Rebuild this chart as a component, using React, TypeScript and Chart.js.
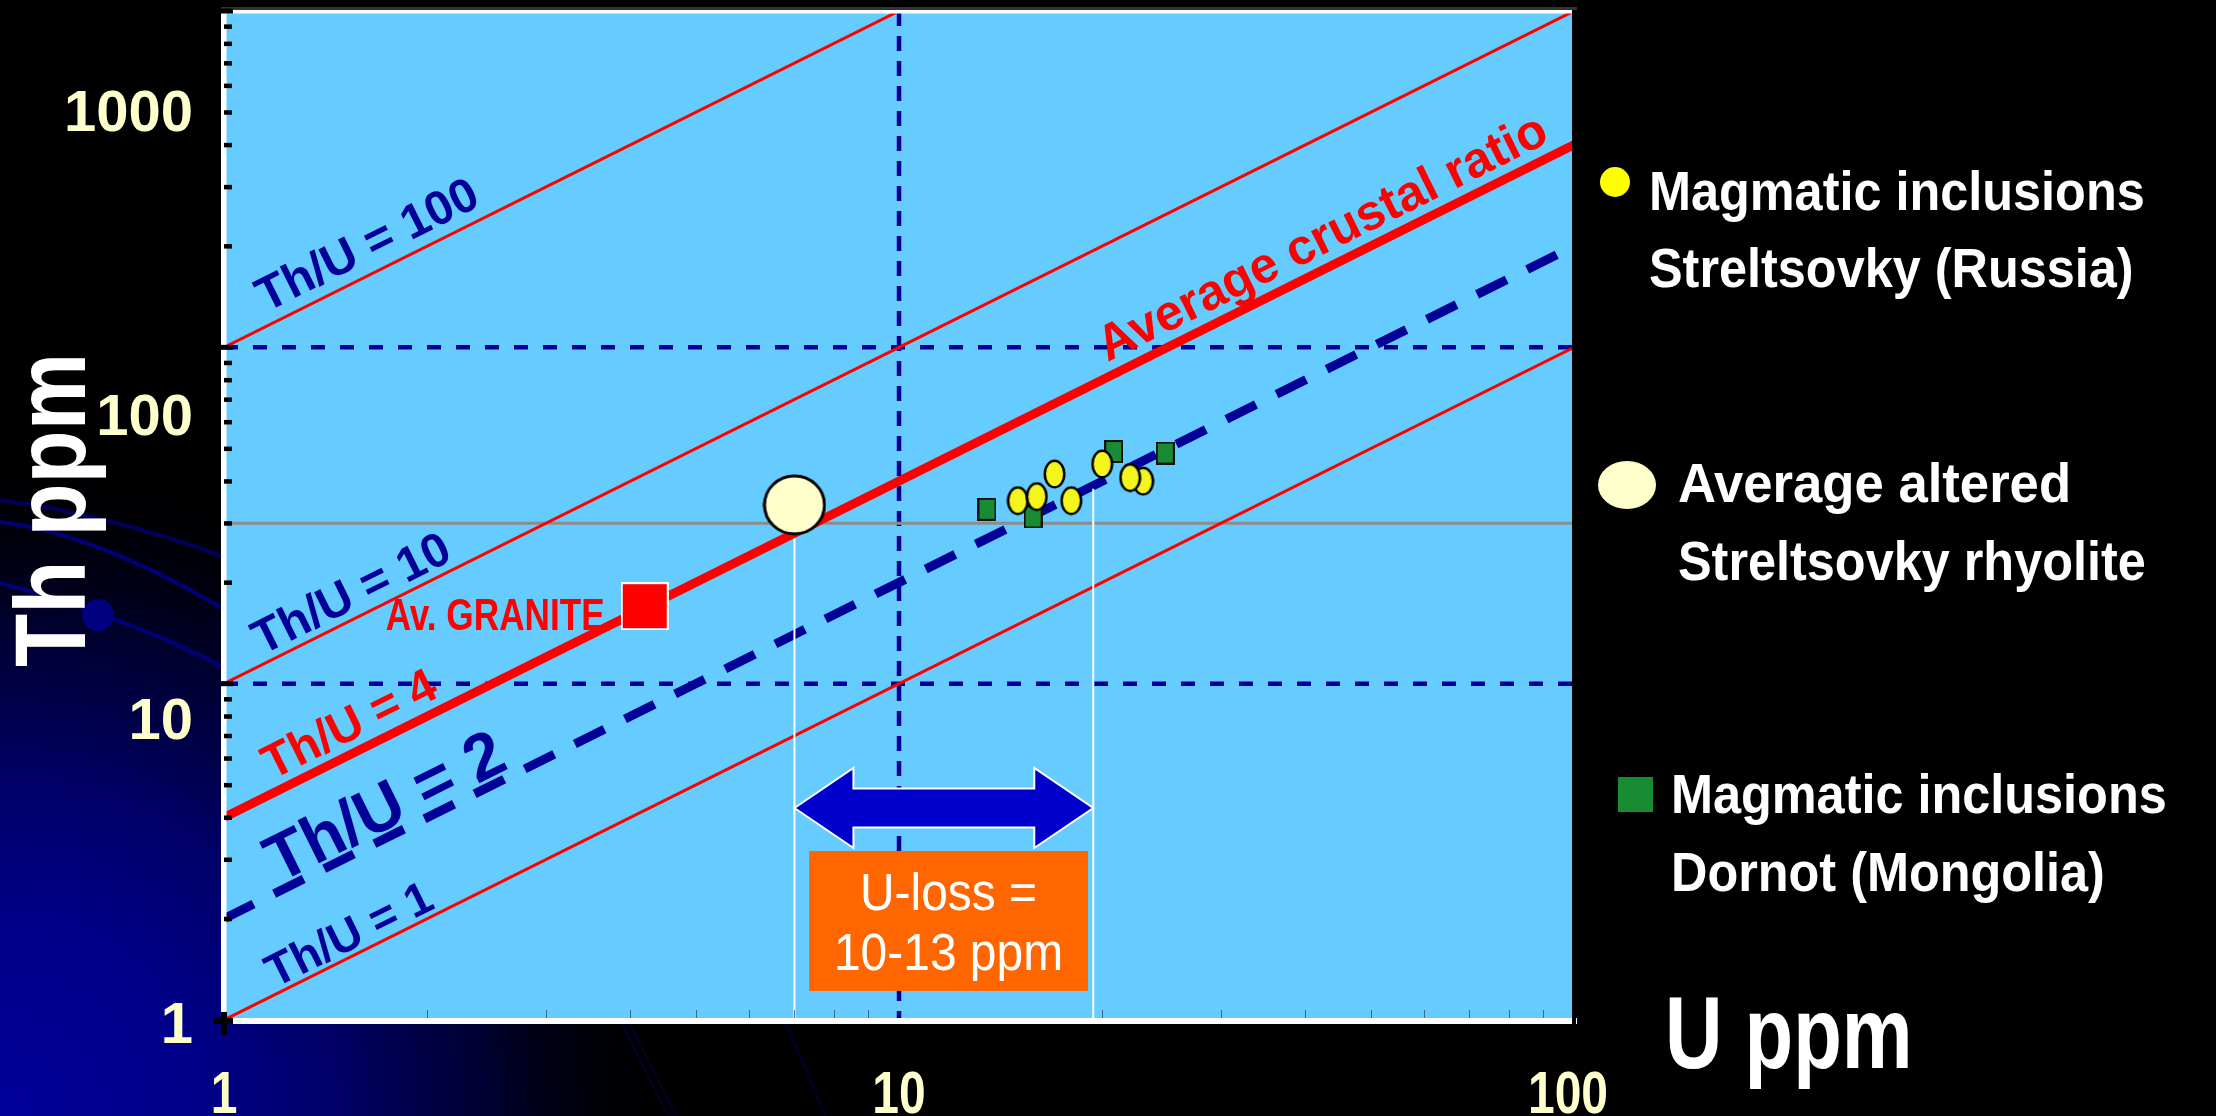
import React, { useEffect, useRef } from 'react';
import { Chart, registerables } from 'chart.js';

Chart.register(...registerables);

const FONT = '"Liberation Sans", Arial, Helvetica, sans-serif';
const NAVY = '#000099';
const RED = '#FF0000';
const LABEL_COLOR = '#FFFFCC';

// Axis ranges and tick values
const uRange = [1, 100];
const thRange = [1, 1000];
const thLabelRange = [1, 2084];
const uTickLabels = [1, 10, 100];
const thTickLabels = [1, 10, 100, 1000];
const uGrid = [10];
const thGrid = [10, 100];
const uMinorTicks = [2, 3, 4, 5, 6, 7, 8, 9, 20, 30, 40, 50, 60, 70, 80, 90];
const thMinorTicks = [2, 3, 4, 5, 6, 7, 8, 9, 20, 30, 40, 50, 60, 70, 80, 90, 200, 300, 400, 500, 600, 700, 800, 900];
const thMajorTicks = [10, 100, 1000];

// Th/U reference ratios
const thinRatios = [100, 10, 1];
const crustalRatio = 4;
const lowRatio = 2;

// Samples (U ppm, Th ppm)
const streltsovkyU = [15, 16, 17, 18, 20, 23, 22];
const streltsovkyTh = [35, 36, 42, 35, 45, 40, 41];
const dornotU = [13.5, 15.8, 20.8, 24.8];
const dornotTh = [33, 31.3, 49, 48.5];
const rhyoliteU = [7];
const rhyoliteTh = [34];
const graniteU = [4.2];
const graniteTh = [17];

// U-loss construction
const rhyoliteThLevel = 30;
const uLossU = [7, 19.4];
const uLossTopTh = [27, 38];
const uLossArrowTh = 4.27;
const uLossBoxU = [7.36, 19.05];
const uLossBoxTh = [1.22, 3.18];

type Pt = { x: number; y: number };
const pts = (xs: number[], ys: number[]): Pt[] => xs.map((x, i) => ({ x, y: ys[i] }));
const ratioLine = (r: number): Pt[] => [
  { x: uRange[0], y: r * uRange[0] },
  { x: uRange[1], y: r * uRange[1] },
];

// Rotated labels along the ratio lines (anchor = baseline start, in data units)
const ratioLabels = [
  { text: 'Th/U = 100', u: 1.154, th: 127, size: 48, color: NAVY },
  { text: 'Th/U = 10', u: 1.138, th: 12.15, size: 48, color: NAVY },
  { text: 'Th/U = 4', u: 1.178, th: 5.17, size: 48, color: RED },
  { text: 'Th/U = 2', u: 1.205, th: 2.55, size: 66, color: NAVY },
  { text: 'Th/U = 1', u: 1.19, th: 1.245, size: 46, color: NAVY },
  { text: 'Average crustal ratio', u: 20.37, th: 90.4, size: 50, color: RED },
];

function drawText(
  ctx: CanvasRenderingContext2D,
  text: string,
  x: number,
  y: number,
  o: { size: number; color: string; weight?: string; align?: CanvasTextAlign; angle?: number; sx?: number }
) {
  ctx.save();
  ctx.translate(x, y);
  if (o.angle) ctx.rotate(o.angle);
  ctx.scale(o.sx ?? 1, 1);
  ctx.font = `${o.weight ?? 'bold'} ${o.size}px ${FONT}`;
  ctx.fillStyle = o.color;
  ctx.textAlign = o.align ?? 'left';
  ctx.textBaseline = 'alphabetic';
  ctx.fillText(text, 0, 0);
  ctx.restore();
}

function ellipseMarker(w: number, h: number, fill: string, stroke: string, lw: number) {
  const c = document.createElement('canvas');
  c.width = w;
  c.height = h;
  const g = c.getContext('2d')!;
  g.beginPath();
  g.ellipse(w / 2, h / 2, w / 2 - lw / 2 - 0.5, h / 2 - lw / 2 - 0.5, 0, 0, Math.PI * 2);
  g.fillStyle = fill;
  g.fill();
  if (lw > 0) {
    g.lineWidth = lw;
    g.strokeStyle = stroke;
    g.stroke();
  }
  return c;
}

function rectMarker(w: number, h: number, fill: string, stroke: string, lw: number) {
  const c = document.createElement('canvas');
  c.width = w;
  c.height = h;
  const g = c.getContext('2d')!;
  g.fillStyle = fill;
  g.fillRect(0, 0, w, h);
  if (lw > 0) {
    g.lineWidth = lw;
    g.strokeStyle = stroke;
    g.strokeRect(lw / 2, lw / 2, w - lw, h - lw);
  }
  return c;
}

const backdropPlugin = {
  id: 'backdrop',
  beforeDraw(chart: any) {
    const { ctx, width, height, chartArea: a } = chart;
    ctx.save();
    ctx.fillStyle = '#000';
    ctx.fillRect(0, 0, width, height);
    const g = ctx.createRadialGradient(0, height, 0, 0, height, 680);
    g.addColorStop(0, '#00009C');
    g.addColorStop(0.3, '#000088');
    g.addColorStop(0.5, '#000066');
    g.addColorStop(0.72, '#000030');
    g.addColorStop(1, 'rgba(0,0,0,0)');
    ctx.fillStyle = g;
    ctx.fillRect(0, 0, width, height);

    // decorative swooshes on the left
    ctx.lineCap = 'round';
    ctx.strokeStyle = '#00005A';
    ctx.lineWidth = 4;
    ctx.beginPath();
    ctx.moveTo(0, 500);
    ctx.quadraticCurveTo(110, 515, a.left - 2, 556);
    ctx.stroke();
    ctx.strokeStyle = '#000078';
    ctx.beginPath();
    ctx.moveTo(0, 522);
    ctx.bezierCurveTo(70, 530, 150, 566, a.left - 2, 608);
    ctx.stroke();
    ctx.beginPath();
    ctx.moveTo(0, 583);
    ctx.quadraticCurveTo(130, 618, a.left - 2, 667);
    ctx.stroke();
    ctx.fillStyle = '#000080';
    ctx.beginPath();
    ctx.arc(98, 615, 16, 0, Math.PI * 2);
    ctx.fill();
    ctx.strokeStyle = 'rgba(0,0,80,0.6)';
    ctx.lineWidth = 2;
    ctx.beginPath();
    ctx.moveTo(622, a.bottom + 4);
    ctx.lineTo(668, height);
    ctx.moveTo(630, a.bottom + 4);
    ctx.lineTo(676, height);
    ctx.moveTo(786, a.bottom + 4);
    ctx.lineTo(826, height);
    ctx.stroke();

    ctx.fillStyle = '#66CCFF';
    ctx.fillRect(a.left, a.top, a.right - a.left, a.bottom - a.top);
    ctx.restore();
  },
  beforeDatasetsDraw(chart: any) {
    const { ctx, chartArea: a, scales } = chart;
    const xs = scales.x;
    const ys = scales.y;
    ctx.save();
    ctx.strokeStyle = NAVY;
    ctx.lineWidth = 4.5;
    ctx.setLineDash([14, 15]);
    for (const th of thGrid) {
      const py = ys.getPixelForValue(th);
      ctx.beginPath();
      ctx.moveTo(a.left, py);
      ctx.lineTo(a.right, py);
      ctx.stroke();
    }
    ctx.setLineDash([15, 10]);
    for (const u of uGrid) {
      const px = xs.getPixelForValue(u);
      ctx.beginPath();
      ctx.moveTo(px, a.top);
      ctx.lineTo(px, a.bottom);
      ctx.stroke();
    }
    ctx.restore();
  },
  afterDatasetsDraw(chart: any) {
    const { ctx, chartArea: a, scales } = chart;
    const xs = scales.x;
    const ys = scales.y;
    ctx.save();

    // U-loss arrow
    const xl = xs.getPixelForValue(uLossU[0]);
    const xr = xs.getPixelForValue(uLossU[1]);
    const ya = ys.getPixelForValue(uLossArrowTh);
    const head = 59;
    const hh = 40;
    const sh = 19.5;
    ctx.beginPath();
    ctx.moveTo(xl, ya);
    ctx.lineTo(xl + head, ya - hh);
    ctx.lineTo(xl + head, ya - sh);
    ctx.lineTo(xr - head, ya - sh);
    ctx.lineTo(xr - head, ya - hh);
    ctx.lineTo(xr, ya);
    ctx.lineTo(xr - head, ya + hh);
    ctx.lineTo(xr - head, ya + sh);
    ctx.lineTo(xl + head, ya + sh);
    ctx.lineTo(xl + head, ya + hh);
    ctx.closePath();
    ctx.fillStyle = '#0000CC';
    ctx.fill();
    ctx.strokeStyle = '#FFFFFF';
    ctx.lineWidth = 2;
    ctx.stroke();

    // U-loss box
    const bx0 = xs.getPixelForValue(uLossBoxU[0]);
    const bx1 = xs.getPixelForValue(uLossBoxU[1]);
    const by0 = ys.getPixelForValue(uLossBoxTh[1]);
    const by1 = ys.getPixelForValue(uLossBoxTh[0]);
    ctx.fillStyle = '#FF6600';
    ctx.fillRect(bx0, by0, bx1 - bx0, by1 - by0);
    const bc = (bx0 + bx1) / 2;
    drawText(ctx, 'U-loss =', bc, by0 + 59, { size: 51, color: '#FFFFFF', weight: 'normal', align: 'center', sx: 0.94 });
    drawText(ctx, '10-13 ppm', bc, by0 + 119, { size: 51, color: '#FFFFFF', weight: 'normal', align: 'center', sx: 0.94 });

    // labels along the ratio lines
    const ang = Math.atan2(
      ys.getPixelForValue(uRange[1]) - ys.getPixelForValue(uRange[0]),
      xs.getPixelForValue(uRange[1]) - xs.getPixelForValue(uRange[0])
    );
    for (const l of ratioLabels) {
      drawText(ctx, l.text, xs.getPixelForValue(l.u), ys.getPixelForValue(l.th), {
        size: l.size,
        color: l.color,
        angle: ang,
      });
    }
    drawText(ctx, 'Av. GRANITE', xs.getPixelForValue(1.736), ys.getPixelForValue(14.42), {
      size: 44,
      color: RED,
      sx: 0.8,
    });

    // plot frame
    ctx.fillStyle = '#333';
    ctx.fillRect(a.left - 3, a.top - 4, a.right - a.left + 6, 3);
    ctx.fillStyle = '#FFFFFF';
    ctx.fillRect(a.left - 3, a.top - 1, a.right - a.left + 3, 3.5);
    ctx.fillRect(a.left - 3, a.top - 1, 5.5, a.bottom - a.top + 5);
    // x minor ticks
    ctx.strokeStyle = 'rgba(40,70,100,0.75)';
    ctx.lineWidth = 1;
    for (const u of uMinorTicks) {
      const px = Math.round(xs.getPixelForValue(u)) + 0.5;
      ctx.beginPath();
      ctx.moveTo(px, a.bottom - 10);
      ctx.lineTo(px, a.bottom);
      ctx.stroke();
    }
    ctx.fillStyle = '#FFFFFF';
    ctx.fillRect(a.left - 3, a.bottom - 2, a.right - a.left + 6, 6);
    ctx.fillStyle = '#000';
    ctx.fillRect(a.right - 2, a.top - 1, 4, a.bottom - a.top + 5);
    // y ticks
    for (const th of thMinorTicks) {
      const py = ys.getPixelForValue(th);
      ctx.fillRect(a.left, py - 2, 8, 4.5);
    }
    for (const th of thMajorTicks) {
      const py = ys.getPixelForValue(th);
      ctx.fillRect(a.left - 3, py - 2.5, 12, 5);
    }
    ctx.fillRect(a.left - 11, a.bottom - 2, 20, 6);
    ctx.fillRect(a.left - 3, a.bottom - 8, 6, 23);

    // U tick labels (narrow lettering)
    for (const v of uTickLabels) {
      const px = xs.getPixelForValue(v);
      const shift = v === uRange[1] ? -6 : 0;
      drawText(ctx, String(v), px + shift, a.bottom + 93, { size: 60, color: LABEL_COLOR, align: 'center', sx: 0.8 });
    }
    ctx.restore();
  },
  afterDraw(chart: any) {
    const { ctx } = chart;
    ctx.save();
    // axis titles
    drawText(ctx, 'Th ppm', 85, 667, { size: 100, color: '#FFFFFF', angle: -Math.PI / 2, sx: 0.87 });
    drawText(ctx, 'U ppm', 1665, 1068, { size: 102, color: '#FFFFFF', sx: 0.78 });

    // legend
    ctx.fillStyle = '#FFFF00';
    ctx.beginPath();
    ctx.ellipse(1615, 182, 15, 15, 0, 0, Math.PI * 2);
    ctx.fill();
    ctx.fillStyle = '#FFFFCC';
    ctx.beginPath();
    ctx.ellipse(1627, 485, 29, 24, 0, 0, Math.PI * 2);
    ctx.fill();
    ctx.fillStyle = '#178C33';
    ctx.fillRect(1618, 777, 35, 35);
    const lg = { size: 56, color: '#FFFFFF', sx: 0.9 };
    drawText(ctx, 'Magmatic inclusions', 1649, 210, lg);
    drawText(ctx, 'Streltsovky (Russia)', 1649, 287, lg);
    drawText(ctx, 'Average altered', 1678, 502, { ...lg, sx: 0.94 });
    drawText(ctx, 'Streltsovky rhyolite', 1678, 580, lg);
    drawText(ctx, 'Magmatic inclusions', 1671, 813, lg);
    drawText(ctx, 'Dornot (Mongolia)', 1671, 891, lg);
    ctx.restore();
  },
};

export default function App() {
  const ref = useRef<HTMLCanvasElement>(null);

  useEffect(() => {
    const canvas = ref.current;
    if (!canvas) return;

    const yellowDot = ellipseMarker(23, 30, '#F5F51E', '#000000', 2.5);
    const greenSquare = rectMarker(19, 23, '#188C34', '#111111', 2);
    const graniteSquare = rectMarker(48, 48, '#FF0000', '#FFFFFF', 2);
    const rhyoliteDot = ellipseMarker(64, 62, '#FFFFCC', '#000000', 3);

    const line = (data: Pt[], color: string, width: number, order: number, dash?: number[]) => ({
      type: 'scatter' as const,
      data,
      showLine: true,
      borderColor: color,
      borderWidth: width,
      borderDash: dash ?? [],
      pointRadius: 0,
      pointHoverRadius: 0,
      fill: false,
      clip: 0,
      order,
    });
    const marks = (data: Pt[], style: HTMLCanvasElement, order: number) => ({
      type: 'scatter' as const,
      data,
      showLine: false,
      pointStyle: style,
      pointRadius: 10,
      pointHoverRadius: 10,
      order,
    });

    const datasets: any[] = [
      line(pts([uRange[0], uRange[1]], [rhyoliteThLevel, rhyoliteThLevel]), '#8C8C8C', 3, 20),
      ...thinRatios.map((r) => line(ratioLine(r), RED, 3, 19)),
      line(ratioLine(lowRatio), NAVY, 9, 18, [33, 23]),
      line(ratioLine(crustalRatio), RED, 9, 17),
      line(pts([uLossU[0], uLossU[0]], [thRange[0], uLossTopTh[0]]), '#FFFFFF', 2, 16),
      line(pts([uLossU[1], uLossU[1]], [thRange[0], uLossTopTh[1]]), '#FFFFFF', 2, 16),
      marks(pts(graniteU, graniteTh), graniteSquare, 4),
      marks(pts(rhyoliteU, rhyoliteTh), rhyoliteDot, 3),
      marks(pts(dornotU, dornotTh), greenSquare, 2),
      marks(pts(streltsovkyU, streltsovkyTh), yellowDot, 1),
    ];

    const tickFont = { family: FONT, size: 58, weight: 'bold' as const };
    const noPad = (s: any) => {
      s.paddingTop = 0;
      s.paddingBottom = 0;
      s.paddingLeft = 0;
      s.paddingRight = 0;
    };

    const chart = new Chart(canvas, {
      type: 'scatter',
      data: { datasets },
      plugins: [backdropPlugin],
      options: {
        animation: false,
        responsive: false,
        devicePixelRatio: 1,
        events: [],
        layout: { padding: { left: 0, right: 642, top: 11, bottom: 0 } },
        plugins: { legend: { display: false }, tooltip: { enabled: false } },
        scales: {
          x: {
            type: 'logarithmic',
            position: 'bottom',
            min: uRange[0],
            max: uRange[1],
            afterBuildTicks: (s: any) => {
              s.ticks = uTickLabels.map((v) => ({ value: v }));
            },
            afterFit: (s: any) => {
              s.height = 96;
              noPad(s);
            },
            grid: { display: false, drawTicks: false },
            border: { display: false },
            ticks: { display: false },
          },
          y: {
            type: 'logarithmic',
            display: false,
            min: thRange[0],
            max: thRange[1],
          },
          yLabels: {
            type: 'logarithmic',
            position: 'left',
            min: thLabelRange[0],
            max: thLabelRange[1],
            afterBuildTicks: (s: any) => {
              s.ticks = thTickLabels.map((v) => ({ value: v }));
            },
            afterFit: (s: any) => {
              s.width = 224;
              noPad(s);
            },
            grid: { display: false, drawTicks: false },
            border: { display: false },
            ticks: {
              color: LABEL_COLOR,
              font: tickFont,
              padding: 31,
              labelOffset: 7,
              autoSkip: false,
              callback: (v: any) => String(v),
            },
          },
        },
      } as any,
    });

    return () => chart.destroy();
  }, []);

  return (
    <div style={{ position: 'fixed', left: 0, top: 0, width: 2216, height: 1116, background: '#000' }}>
      <canvas ref={ref} width={2216} height={1116} style={{ display: 'block', width: 2216, height: 1116 }} />
    </div>
  );
}
